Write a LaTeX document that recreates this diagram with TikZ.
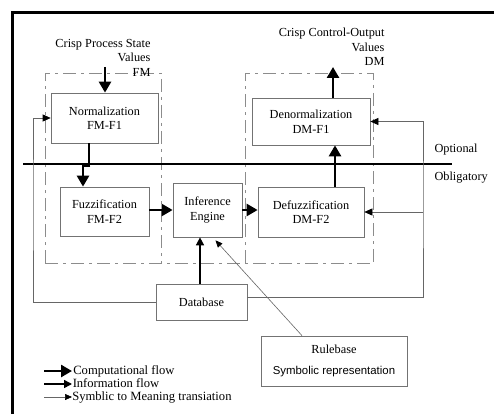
\documentclass[tikz,border=0pt]{standalone}
\usepackage{fontspec}
\setmainfont{Liberation Serif}
\setsansfont{Liberation Sans}
\usetikzlibrary{arrows.meta}
\begin{document}
\begin{tikzpicture}[x=1pt,y=-1pt,
  font=\fontsize{12.3}{14.5}\selectfont,
  block/.style={draw=black!55,line width=0.7pt,align=center,inner sep=0pt},
  comp/.style={line width=2.6pt,-{Triangle[length=11pt,width=12pt]}},
  info/.style={line width=1.5pt,-{Triangle[length=8pt,width=8pt]}},
  sym/.style={draw=black!60,line width=0.6pt,-{Triangle[length=7pt,width=6pt,fill=black,color=black]}},
  fb/.style={draw=black!60,line width=0.7pt,-{Triangle[length=8pt,width=7pt,fill=black,color=black]}},
  dd/.style={draw=black!45,line width=0.7pt,dash pattern=on 13pt off 5pt on 3pt off 5pt},
  sep/.style={line width=1.3pt},
  legendtext/.style={anchor=west,inner sep=0pt,text height=9pt,text depth=2.5pt}]
\useasboundingbox (0,0) rectangle (494,414);
\fill[white] (0,0) rectangle (494,414);

% outer frame (top and left edges)
\draw[line width=3pt] (12,414) -- (12,13) -- (494,13);

% module groupings
\draw[dd] (45,263) -- (45,73) -- (161,73) -- (161,263);
\draw[dd] (245,263) -- (245,73) -- (373,73) -- (373,263);
\draw[dd] (45,263) -- (373,263);

% optional / obligatory separator
\draw[sep] (23,164) -- (452,164);
\node[anchor=west] (opt) at (431,150) {Optional};
\node[anchor=west] (obl) at (431,178) {Obligatory};

% blocks
\node[block,minimum width=107pt,minimum height=50pt] (norm) at (104.5,118) {Normalization\\FM-F1};
\node[block,minimum width=89pt,minimum height=49pt] (fuzz) at (104.5,211.5) {Fuzzification\\FM-F2};
\node[block,minimum width=69pt,minimum height=54pt] (inf) at (207.5,210) {Inference\\Engine};
\node[block,minimum width=106pt,minimum height=50pt] (defuzz) at (311,212) {Defuzzification\\DM-F2};
\node[block,minimum width=118pt,minimum height=47pt] (denorm) at (311,121.5) {Denormalization\\DM-F1};
\node[block,minimum width=91pt,minimum height=36pt] (db) at (201.5,302) {Database};
\node[block,minimum width=146pt,minimum height=50pt] (rule) at (334,361) {Rulebase\\[6pt]{\sffamily\fontsize{11.4}{13}\selectfont Symbolic representation}};

% input and output labels
\node[align=right,anchor=east] (inlbl) at (154,57.5) {Crisp Process State\\Values\\FM};
\node[align=right,anchor=east] (outlbl) at (388,47) {Crisp Control-Output\\Values\\DM};

% computational flow
\coordinate (in) at (105,67);
\coordinate (out) at (333,67);
\draw[comp] (in) -- (in |- norm.north);
\draw[comp,-] ([xshift=-15.5pt]norm.south) -- ++(0,22) coordinate (jog);
\draw[comp] ([xshift=1.3pt]jog) -- ([xshift=-6pt]jog) -- ([xshift=-6pt]jog |- fuzz.north);
\draw[comp] (fuzz.east |- inf.west) -- (inf.west);
\draw[comp] (inf.east) -- (inf.east -| defuzz.west);
\draw[comp] ([xshift=24pt]defuzz.north) -- ([xshift=24pt]defuzz.north |- denorm.south);
\draw[comp] (denorm.north -| out) -- (out);

% information flow
\draw[info] ([xshift=-1.5pt]db.north) -- ([xshift=-1.5pt]db.north |- inf.south);

% symbolic to meaning translation
\draw[sym] ([xshift=-32pt]rule.north) -- ([xshift=8pt,yshift=-3pt]inf.south);

% database feedback lines
\coordinate (fbL) at (33,200);
\coordinate (fbR) at (423,200);
\draw[fb] (db.west) -| (fbL) |- (norm.west);
\draw[fb] ([yshift=5pt]db.east) -| (fbR) |- (denorm.east);
\draw[fb] (fbR |- defuzz.east) -- (defuzz.east);

% legend
\begin{scope}[font=\fontsize{12.6}{14}\selectfont]
\coordinate (l1) at (44,371);
\coordinate (l2) at (44,384);
\coordinate (l3) at (44,397);
\draw[comp] (l1) -- ++(28,0) node[legendtext] (t1) {Computational flow};
\draw[info] (l2) -- ++(28,0) node[legendtext] (t2) {Information flow};
\draw[sym] (l3) -- ++(28,0) node[legendtext] (t3) {Symblic to Meaning transiation};
\end{scope}
\end{tikzpicture}
\end{document}
